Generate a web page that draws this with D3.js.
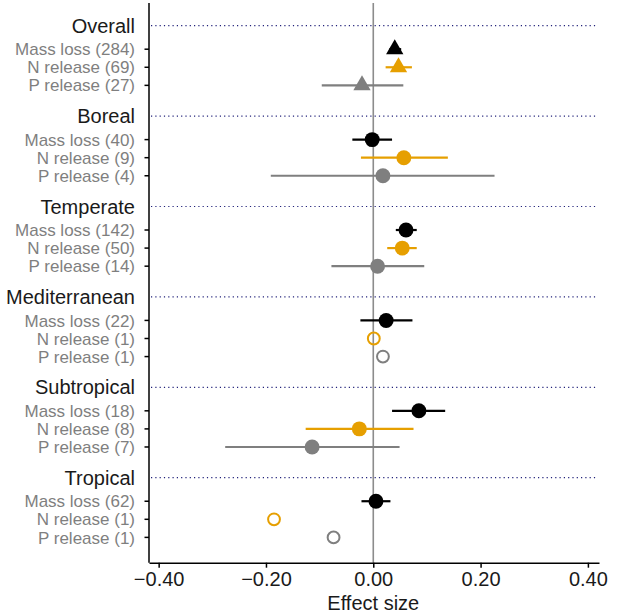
<!DOCTYPE html>
<html>
<head>
<meta charset="utf-8">
<script src="https://cdn.jsdelivr.net/npm/d3@7"></script>
<style>
  body { margin: 0; background: #fff; }
  svg { font-family: "Liberation Sans", Arial, sans-serif; }
</style>
</head>
<body>
<svg width="617" height="616"></svg>
<script>
// Litter decomposition effect sizes by biome

var groups = ["Overall", "Boreal", "Temperate", "Mediterranean", "Subtropical", "Tropical"];
var responses = ["Mass loss", "N release", "P release"];

var counts = [
  [284, 69, 27],
  [40, 9, 4],
  [142, 50, 14],
  [22, 1, 1],
  [18, 8, 7],
  [62, 1, 1]
];

var estimates = [
  [0.040, 0.047, -0.021],
  [-0.002, 0.057, 0.018],
  [0.061, 0.054, 0.008],
  [0.024, 0.001, 0.018],
  [0.085, -0.026, -0.114],
  [0.005, -0.185, -0.074]
];

var lower = [
  [0.030, 0.023, -0.096],
  [-0.039, -0.023, -0.191],
  [0.042, 0.026, -0.078],
  [-0.024, null, null],
  [0.035, -0.126, -0.276],
  [-0.022, null, null]
];

var upper = [
  [0.052, 0.072, 0.056],
  [0.035, 0.139, 0.226],
  [0.081, 0.081, 0.095],
  [0.073, null, null],
  [0.134, 0.075, 0.049],
  [0.032, null, null]
];

var xTicks = [-0.4, -0.2, 0, 0.2, 0.4];

var colors = ["#000000", "#E69F00", "#7f7f7f"];

var svg = d3.select("svg");

var x = d3.scaleLinear().domain([-0.418, 0.4207]).range([149, 599]);
var y = d3.scaleLinear().domain([-1.255, 29.7]).range([3, 562.7]);

var rows = [];
groups.forEach(function(g, gi) {
  responses.forEach(function(r, ri) {
    rows.push({
      group: gi,
      resp: ri,
      label: r + " (" + counts[gi][ri] + ")",
      est: estimates[gi][ri],
      lo: lower[gi][ri],
      hi: upper[gi][ri],
      pos: gi * 5 + 1.3 + ri
    });
  });
});

// zero line
svg.append("line")
    .attr("x1", x(0)).attr("x2", x(0))
    .attr("y1", y.range()[0]).attr("y2", y.range()[1])
    .attr("stroke", "#8c8c8c")
    .attr("stroke-width", 1.6);

// group separators
svg.selectAll(".sep")
  .data(groups)
  .enter().append("line")
    .attr("class", "sep")
    .attr("x1", 151).attr("x2", 597)
    .attr("y1", function(d, i) { return y(i * 5); })
    .attr("y2", function(d, i) { return y(i * 5); })
    .attr("stroke", "#22227a")
    .attr("stroke-width", 1.2)
    .attr("stroke-dasharray", "1.2,3.1");

// group headers
svg.selectAll(".head")
  .data(groups)
  .enter().append("text")
    .attr("class", "head")
    .attr("x", 135)
    .attr("y", function(d, i) { return y(i * 5); })
    .attr("dy", "0.35em")
    .attr("text-anchor", "end")
    .attr("font-size", 20)
    .attr("fill", "#1a1a1a")
    .text(function(d) { return d; });

// row labels and ticks
svg.selectAll(".rlab")
  .data(rows)
  .enter().append("text")
    .attr("class", "rlab")
    .attr("x", 135)
    .attr("y", function(d) { return y(d.pos); })
    .attr("dy", "0.36em")
    .attr("text-anchor", "end")
    .attr("font-size", 17)
    .attr("fill", "#7f7f7f")
    .text(function(d) { return d.label; });

svg.selectAll(".rtick")
  .data(rows)
  .enter().append("line")
    .attr("class", "rtick")
    .attr("x1", 144.5).attr("x2", 149)
    .attr("y1", function(d) { return y(d.pos); })
    .attr("y2", function(d) { return y(d.pos); })
    .attr("stroke", "#000")
    .attr("stroke-width", 1.5);

// error bars
svg.selectAll(".ci")
  .data(rows.filter(function(d) { return d.lo != null; }))
  .enter().append("line")
    .attr("class", "ci")
    .attr("x1", function(d) { return x(d.lo); })
    .attr("x2", function(d) { return x(d.hi); })
    .attr("y1", function(d) { return y(d.pos); })
    .attr("y2", function(d) { return y(d.pos); })
    .attr("stroke", function(d) { return colors[d.resp]; })
    .attr("stroke-width", 2.2);

// points
var tri = d3.symbol().type(d3.symbolTriangle).size(130);

svg.selectAll(".pt")
  .data(rows)
  .enter().append("path")
    .attr("class", "pt")
    .attr("transform", function(d) { return "translate(" + x(d.est) + "," + y(d.pos) + ")"; })
    .attr("d", function(d) {
      if (d.group === 0) return tri();
      return d3.symbol().type(d3.symbolCircle).size(d.lo == null ? 110 : 175)();
    })
    .attr("fill", function(d) { return d.lo == null ? "none" : colors[d.resp]; })
    .attr("stroke", function(d) { return d.lo == null ? colors[d.resp] : "none"; })
    .attr("stroke-width", 2);

// axes
svg.append("line")
    .attr("x1", 149).attr("x2", 149)
    .attr("y1", y.range()[0]).attr("y2", y.range()[1])
    .attr("stroke", "#000")
    .attr("stroke-width", 1.5);

var xAxis = svg.append("g")
    .attr("transform", "translate(0," + y.range()[1] + ")")
    .call(d3.axisBottom(x).tickValues(xTicks).tickFormat(d3.format(".2f")).tickSize(5).tickSizeOuter(0));

xAxis.select(".domain").attr("stroke", "#000").attr("stroke-width", 1.5);
xAxis.selectAll(".tick line").attr("stroke", "#000").attr("stroke-width", 1.5);
xAxis.selectAll(".tick text")
    .attr("font-size", 20)
    .attr("font-family", "Liberation Sans, Arial, sans-serif")
    .attr("fill", "#1a1a1a")
    .attr("dy", "0.78em");

svg.append("text")
    .attr("x", x(0))
    .attr("y", 609.5)
    .attr("text-anchor", "middle")
    .attr("font-size", 20)
    .attr("fill", "#1a1a1a")
    .text("Effect size");
</script>
</body>
</html>
